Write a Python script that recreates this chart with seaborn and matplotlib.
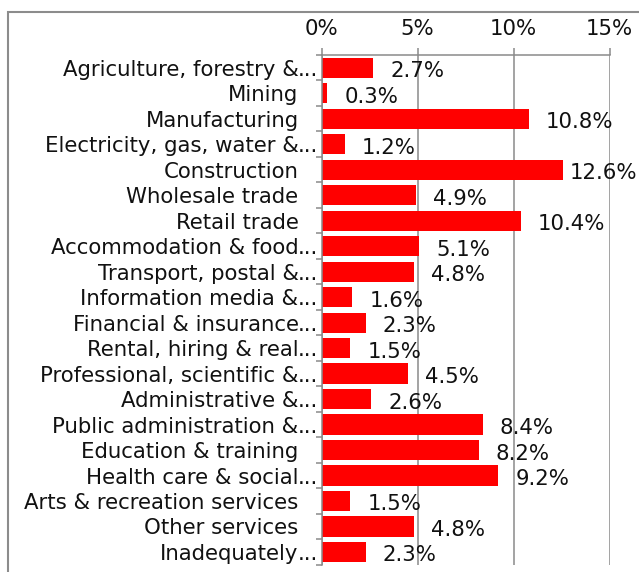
import numpy as np
import pandas as pd
import matplotlib
matplotlib.use("Agg")
import matplotlib.pyplot as plt
from matplotlib.patches import Rectangle
import seaborn as sns

# Share of employment by industry (%)
industries = [
    "Agriculture, forestry &...",
    "Mining",
    "Manufacturing",
    "Electricity, gas, water &...",
    "Construction",
    "Wholesale trade",
    "Retail trade",
    "Accommodation & food...",
    "Transport, postal &...",
    "Information media &...",
    "Financial & insurance...",
    "Rental, hiring & real...",
    "Professional, scientific &...",
    "Administrative &...",
    "Public administration &...",
    "Education & training",
    "Health care & social...",
    "Arts & recreation services",
    "Other services",
    "Inadequately...",
]
shares = [2.7, 0.3, 10.8, 1.2, 12.6, 4.9, 10.4, 5.1, 4.8, 1.6,
          2.3, 1.5, 4.5, 2.6, 8.4, 8.2, 9.2, 1.5, 4.8, 2.3]
tick_values = [0, 5, 10, 15]
tick_labels = ["0%", "5%", "10%", "15%"]

DPI = 100
W, H = 639, 572
FS = 15.3
GRID = "#8a8a8a"
TEXT = "#111111"
PX = 72.0 / DPI  # points per pixel

sns.set_theme(style="white")
plt.rcParams["font.family"] = ["DejaVu Sans"]

df = pd.DataFrame({"industry": industries, "share": shares})

fig = plt.figure(figsize=(W / DPI, H / DPI), dpi=DPI)
ax = fig.add_axes([321.5 / W, 1 - 564.7 / H, 288 / W, 509.7 / H])

sns.barplot(data=df, x="share", y="industry", orient="h", color="#ff0000",
            saturation=1, width=0.79, ax=ax, linewidth=0)

ax.set_xlim(0, 15)
ax.set_ylim(len(industries) - 0.5, -0.5)
ax.set_xlabel("")
ax.set_ylabel("")

# value axis on top with outward tick marks
ax.xaxis.set_ticks_position("top")
ax.xaxis.set_label_position("top")
ax.set_xticks(tick_values)
ax.set_xticklabels(tick_labels)
ax.tick_params(axis="x", which="major", top=True, bottom=False,
               labeltop=True, labelbottom=False, length=7 * PX,
               width=1.1, color=GRID, pad=6.6, labelsize=FS,
               labelcolor=TEXT)
ax.grid(axis="x", color=GRID, linewidth=1.1)
ax.grid(axis="y", visible=False)
ax.set_axisbelow(True)

# category axis: tick marks between categories, labels drawn by hand
ax.set_yticks(np.arange(len(industries)))
ax.set_yticklabels([])
ax.tick_params(axis="y", which="major", left=False, length=0)
ax.set_yticks(np.arange(-0.5, len(industries), 1.0), minor=True)
ax.tick_params(axis="y", which="minor", left=True, length=6.5 * PX,
               width=1.1, color=GRID)

for side in ["right", "bottom"]:
    ax.spines[side].set_visible(False)
for side in ["top", "left"]:
    ax.spines[side].set_visible(True)
    ax.spines[side].set_color(GRID)
    ax.spines[side].set_linewidth(1.1)

for i, name in enumerate(industries):
    base = name[:-3] if name.endswith("...") else name
    ax.annotate(base, xy=(0, i), xycoords=("axes fraction", "data"),
                xytext=(-23 * PX, 0), textcoords="offset points",
                ha="right", va="center_baseline", fontsize=FS,
                color=TEXT, annotation_clip=False)
    if name.endswith("..."):
        ax.annotate("...", xy=(0, i), xycoords=("axes fraction", "data"),
                    xytext=(-23.5 * PX, 0), textcoords="offset points",
                    ha="left", va="center_baseline", fontsize=FS,
                    color=TEXT, annotation_clip=False)

# value labels just past the bar ends
value_texts = []
for i, v in enumerate(shares):
    t = ax.annotate(f"{v:.1f}%", xy=(v, i), xycoords="data",
                    xytext=(17 * PX, -1.5 * PX), textcoords="offset points",
                    ha="left", va="center_baseline", fontsize=FS,
                    color=TEXT, annotation_clip=False)
    value_texts.append(t)

# chart-area border
fig.add_artist(Rectangle((8.3 / W, -0.1), 1.2, 1.1 - 11.7 / H,
                         transform=fig.transFigure, fill=False,
                         edgecolor="#8c8c8c", linewidth=1.5))

# keep value labels inside the chart area
fig.canvas.draw()
renderer = fig.canvas.get_renderer()
for t in value_texts:
    bb = t.get_window_extent(renderer)
    if bb.x1 > 637:
        dx, dy = t.xyann
        t.xyann = (dx - (bb.x1 - 637) * PX, dy)

fig.savefig("out.png", dpi=DPI)
